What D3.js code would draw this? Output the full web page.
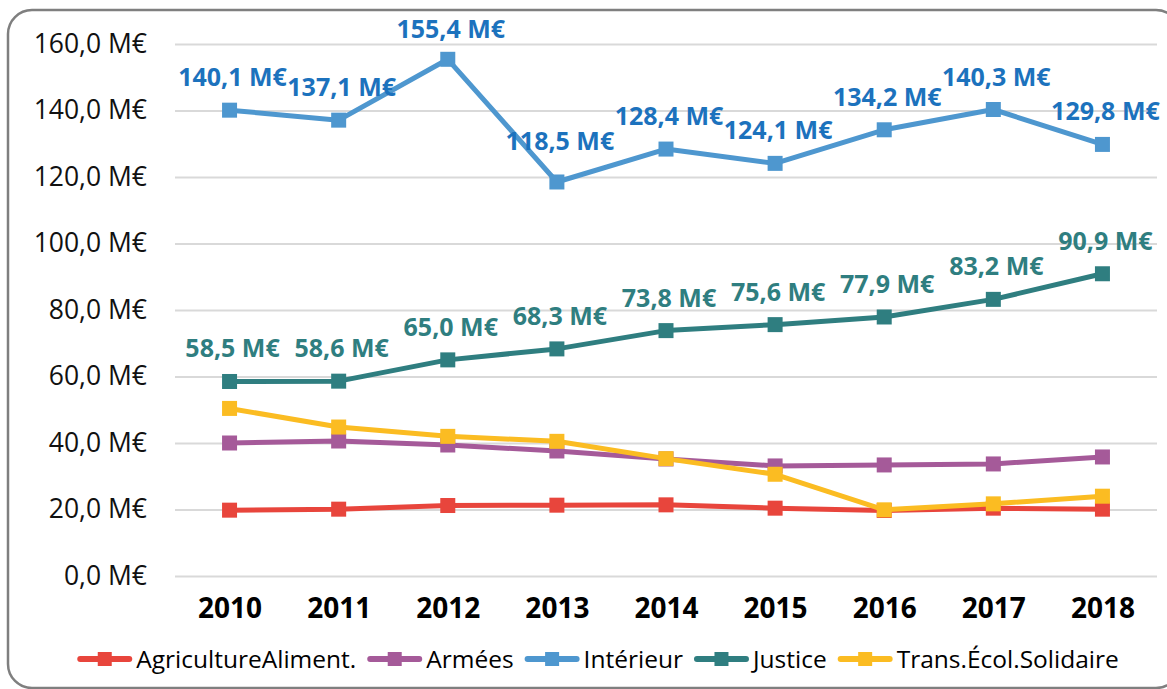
<!DOCTYPE html>
<html lang="fr">
<head>
<meta charset="utf-8">
<title>Budgets par ministère 2010–2018</title>
<script src="https://cdn.jsdelivr.net/npm/d3@7"></script>
<style>
  html, body { margin: 0; padding: 0; background: #ffffff; }
  svg { display: block; font-family: "Open Sans", "Noto Sans", sans-serif; }
</style>
</head>
<body>
<svg id="chart" width="1167" height="689"></svg>
<script>
// Années et montants (millions d'euros)
const years = ["2010", "2011", "2012", "2013", "2014", "2015", "2016", "2017", "2018"];
const yTicks = [0, 20, 40, 60, 80, 100, 120, 140, 160];

const seriesNames = ["AgricultureAliment.", "Armées", "Intérieur", "Justice", "Trans.Écol.Solidaire"];
const agriculture = [19.8, 20.1, 21.2, 21.3, 21.4, 20.4, 19.7, 20.4, 20.1];
const armees      = [40.0, 40.6, 39.4, 37.6, 35.2, 33.1, 33.4, 33.7, 35.8];
const interieur   = [140.1, 137.1, 155.4, 118.5, 128.4, 124.1, 134.2, 140.3, 129.8];
const justice     = [58.5, 58.6, 65.0, 68.3, 73.8, 75.6, 77.9, 83.2, 90.9];
const transEcol   = [50.4, 44.8, 42.0, 40.5, 35.3, 30.6, 19.9, 21.7, 24.0];

// Séries dont les valeurs sont étiquetées
const labelledSeries = ["Intérieur", "Justice"];
// Décalage vertical individuel de certaines étiquettes (px)
const labelNudgeInterieur = [0, 0, 3, -8, 0, 0, 0, 0, 0];

const colors = {
  "AgricultureAliment.": "#E8453C",
  "Armées": "#A55A99",
  "Intérieur": "#4E97CF",
  "Justice": "#2F7E80",
  "Trans.Écol.Solidaire": "#FBBC22"
};
const labelColors = { "Intérieur": "#1C72BD", "Justice": "#2F7E80" };

const seriesValues = [agriculture, armees, interieur, justice, transEcol];
const series = seriesNames.map((name, i) => ({
  name,
  points: years.map((y, j) => ({ year: y, value: seriesValues[i][j] }))
}));

const svg = d3.select("#chart");

// Cadre arrondi
svg.append("rect")
  .attr("x", 8).attr("y", 10)
  .attr("width", 1172).attr("height", 678)
  .attr("rx", 24).attr("ry", 24)
  .attr("fill", "#ffffff")
  .attr("stroke", "#7f7f7f")
  .attr("stroke-width", 2.5);

const plot = { left: 175, right: 1157, top: 44, bottom: 576 };

const x = d3.scalePoint().domain(years).range([plot.left, plot.right]).padding(0.5);
const y = d3.scaleLinear().domain([0, 160]).range([plot.bottom, plot.top]);

const fmt = v => d3.format(".1f")(v).replace(".", ",") + " M€";

// Axe vertical + quadrillage
const yAxis = svg.append("g")
  .attr("transform", `translate(${plot.left},0)`)
  .call(d3.axisLeft(y).tickValues(yTicks).tickFormat(fmt)
    .tickSize(-(plot.right - plot.left)).tickPadding(28));
yAxis.select(".domain").remove();
yAxis.selectAll(".tick line").attr("stroke", "#d9d9d9").attr("stroke-width", 2);
yAxis.selectAll(".tick text")
  .attr("fill", "#111111")
  .style("font-size", "26.5px")
  .style("font-family", "'Open Sans', sans-serif");

// Axe horizontal (années)
const xAxis = svg.append("g")
  .attr("transform", `translate(0,${plot.bottom})`)
  .call(d3.axisBottom(x).tickSize(0).tickPadding(22));
xAxis.select(".domain").remove();
xAxis.selectAll(".tick text")
  .attr("fill", "#000000")
  .style("font-size", "28px")
  .style("font-weight", "700")
  .style("font-family", "'Open Sans', sans-serif");

// Lignes et marqueurs
const line = d3.line().x(d => x(d.year)).y(d => y(d.value));
const mk = 15;

const gSeries = svg.append("g");
series.forEach(s => {
  const g = gSeries.append("g");
  g.append("path")
    .datum(s.points)
    .attr("d", line)
    .attr("fill", "none")
    .attr("stroke", colors[s.name])
    .attr("stroke-width", 5)
    .attr("stroke-linejoin", "round");
  g.selectAll("rect")
    .data(s.points)
    .join("rect")
    .attr("x", d => x(d.year) - mk / 2)
    .attr("y", d => y(d.value) - mk / 2)
    .attr("width", mk).attr("height", mk)
    .attr("fill", colors[s.name]);
});

// Étiquettes de valeurs
series.filter(s => labelledSeries.includes(s.name)).forEach(s => {
  svg.append("g").selectAll("text")
    .data(s.points)
    .join("text")
    .attr("x", d => x(d.year) + 3)
    .attr("y", (d, i) => y(d.value) - 33 + (s.name === "Intérieur" ? labelNudgeInterieur[i] : 0))
    .attr("dy", "0.36em")
    .attr("text-anchor", "middle")
    .attr("fill", labelColors[s.name])
    .style("font-size", "25px")
    .style("font-weight", "700")
    .text(d => fmt(d.value));
});

// Légende
const legend = svg.append("g");
const legendY = 659;
const lineLen = 55;
const items = [];
seriesNames.forEach(name => {
  const g = legend.append("g");
  g.append("line")
    .attr("x1", 3).attr("x2", lineLen - 3)
    .attr("y1", 0).attr("y2", 0)
    .attr("stroke", colors[name])
    .attr("stroke-width", 6)
    .attr("stroke-linecap", "round");
  g.append("rect")
    .attr("x", lineLen / 2 - 7).attr("y", -7)
    .attr("width", 14).attr("height", 14)
    .attr("fill", colors[name]);
  const t = g.append("text")
    .attr("x", lineLen + 4)
    .attr("dy", "0.35em")
    .attr("fill", "#000000")
    .style("font-size", "24.5px")
    .text(name);
  const w = lineLen + 4 + t.node().getComputedTextLength();
  items.push({ g, w });
});
const gap = 11;
const total = d3.sum(items, d => d.w) + gap * (items.length - 1);
let start = 598 - total / 2;
items.forEach(it => {
  it.g.attr("transform", `translate(${start},${legendY})`);
  start += it.w + gap;
});
</script>
</body>
</html>
